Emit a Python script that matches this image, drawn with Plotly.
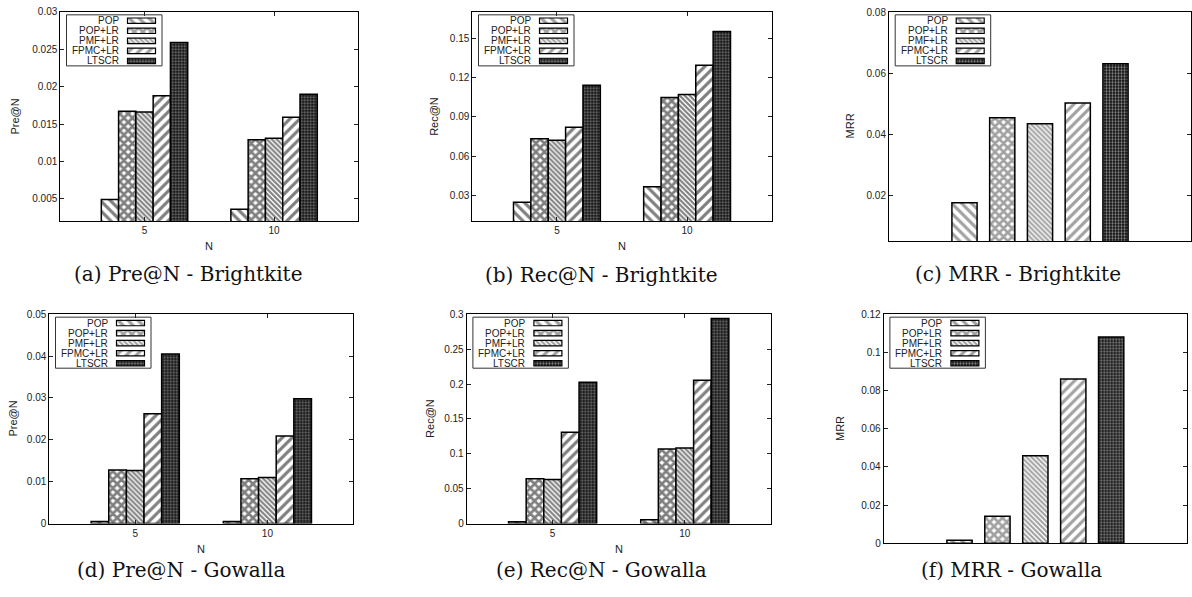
import plotly.graph_objects as go

W, H = 1192, 597

# ---------------- data ----------------
methods = ["POP", "POP+LR", "PMF+LR", "FPMC+LR", "LTSCR"]
n_labels = ["5", "10"]

bk_pre_n5 = [0.0049, 0.0167, 0.0166, 0.0188, 0.0259]
bk_pre_n10 = [0.0036, 0.0129, 0.0131, 0.0159, 0.0190]
bk_rec_n5 = [0.0245, 0.0732, 0.0722, 0.0822, 0.1143]
bk_rec_n10 = [0.0365, 0.1050, 0.1073, 0.1297, 0.1555]
bk_mrr = [0.0175, 0.0454, 0.0434, 0.0502, 0.0631]

gw_pre_n5 = [0.0005, 0.0128, 0.0127, 0.0262, 0.0405]
gw_pre_n10 = [0.0005, 0.0107, 0.0110, 0.0209, 0.0298]
gw_rec_n5 = [0.0028, 0.0642, 0.0633, 0.1308, 0.2025]
gw_rec_n10 = [0.0056, 0.1069, 0.1083, 0.2053, 0.2939]
gw_mrr = [0.0015, 0.0141, 0.0458, 0.0861, 0.1080]

ticks_a = ["0.005", "0.01", "0.015", "0.02", "0.025", "0.03"]
ticks_b = ["0.03", "0.06", "0.09", "0.12", "0.15"]
ticks_c = ["0.02", "0.04", "0.06", "0.08"]
ticks_d = ["0", "0.01", "0.02", "0.03", "0.04", "0.05"]
ticks_e = ["0", "0.05", "0.1", "0.15", "0.2", "0.25", "0.3"]
ticks_f = ["0", "0.02", "0.04", "0.06", "0.08", "0.1", "0.12"]

captions = ["(a) Pre@N - Brightkite", "(b) Rec@N - Brightkite", "(c) MRR - Brightkite",
            "(d) Pre@N - Gowalla", "(e) Rec@N - Gowalla", "(f) MRR - Gowalla"]
ytitles = ["Pre@N", "Rec@N", "MRR", "Pre@N", "Rec@N", "MRR"]

# ---------------- styles ----------------
pat_shape = ["\\", "x", "\\", "/", "."]
pat_size = [7, 6, 3.5, 7, 3]
pat_solid = [0.45, 0.7, 0.6, 0.45, 0.45]
pat_fg = ["black", "black", "black", "black", "#d8d8d8"]
pat_bg = ["white", "white", "white", "white", "#0a0a0a"]

SANS = "Liberation Sans"
SERIF = "DejaVu Serif"
TICKFONT = dict(family=SANS, size=10, color="#222")


def X(px):
    return px / W


def Y(py):
    return 1 - py / H


# panel geometry in pixels: left, right, top, bottom
panels = [
    (60.3, 358.3, 6, 219.3),
    (472.3, 771.7, 6, 219.3),
    (889, 1191, 6, 239.3),
    (49.3, 353.3, 314, 527.3),
    (466.7, 770.7, 314, 527.3),
    (883.7, 1187, 314, 547.3),
]
yranges = [(0.002, 0.03), (0.01, 0.1706), (0.005, 0.0801), (0, 0.05), (0, 0.3), (0, 0.12)]
ytick_lists = [ticks_a, ticks_b, ticks_c, ticks_d, ticks_e, ticks_f]
ytitle_x = [15, 433.3, 850, 12.7, 430, 839.3]
caption_pos = [(188, 273), (601, 274), (1018, 273), (181, 575), (601, 575), (1011, 575)]
xtitle_y = [245, 245, None, 553, 553, None]

grouped = {0: (bk_pre_n5, bk_pre_n10), 1: (bk_rec_n5, bk_rec_n10),
           3: (gw_pre_n5, gw_pre_n10), 4: (gw_rec_n5, gw_rec_n10)}
single = {2: bk_mrr, 5: gw_mrr}

fig = go.Figure()
annotations = []
shapes = []
layout = {}

for p in range(6):
    xa = "x" if p == 0 else f"x{p+1}"
    ya = "y" if p == 0 else f"y{p+1}"
    xkey = "xaxis" if p == 0 else f"xaxis{p+1}"
    ykey = "yaxis" if p == 0 else f"yaxis{p+1}"
    l, r, t, b = panels[p]
    if p in grouped:
        n5, n10 = grouped[p]
        for i, m in enumerate(methods):
            fig.add_trace(go.Bar(
                x=list(range(len(n_labels))), y=[n5[i], n10[i]], name=m,
                xaxis=xa, yaxis=ya, showlegend=False,
                marker=dict(color=pat_bg[i], line=dict(color="black", width=1.5),
                            pattern=dict(shape=pat_shape[i], size=pat_size[i],
                                         solidity=pat_solid[i], fgcolor=pat_fg[i],
                                         bgcolor=pat_bg[i], fillmode="overlay")),
            ))
        layout[xkey] = dict(domain=[X(l), X(r)], anchor=ya, range=[-0.65, 1.65],
                            tickvals=list(range(len(n_labels))), ticktext=n_labels,
                            ticks="inside", ticklen=4, tickcolor="#222", mirror="ticks",
                            showline=True, linecolor="black", linewidth=1,
                            showgrid=False, zeroline=False, tickfont=TICKFONT)
        annotations.append(dict(text="N", x=X((l + r) / 2), y=Y(xtitle_y[p]), xref="paper",
                                yref="paper", showarrow=False, font=dict(family=SANS, size=11, color="#222"),
                                xanchor="center", yanchor="middle"))
    else:
        vals = single[p]
        fig.add_trace(go.Bar(
            x=list(range(len(methods))), y=vals, xaxis=xa, yaxis=ya, showlegend=False,
            marker=dict(color=pat_bg, line=dict(color="black", width=1.5),
                        pattern=dict(shape=pat_shape, size=pat_size, solidity=pat_solid,
                                     fgcolor=pat_fg, bgcolor=pat_bg, fillmode="overlay")),
        ))
        layout[xkey] = dict(domain=[X(l), X(r)], anchor=ya, range=[-2.0, 6.0],
                            showticklabels=False, ticks="", mirror=True,
                            showline=True, linecolor="black", linewidth=1,
                            showgrid=False, zeroline=False)
    tl = ytick_lists[p]
    layout[ykey] = dict(domain=[Y(b), Y(t)], anchor=xa, range=list(yranges[p]),
                        tickvals=[float(v) for v in tl], ticktext=tl,
                        ticks="inside", ticklen=4, tickcolor="#222", mirror="ticks",
                        showline=True, linecolor="black", linewidth=1,
                        showgrid=False, zeroline=False, tickfont=TICKFONT)
    annotations.append(dict(text=ytitles[p], x=X(ytitle_x[p]), y=Y((t + b) / 2), xref="paper",
                            yref="paper", showarrow=False, textangle=-90,
                            font=dict(family=SANS, size=11, color="#222"),
                            xanchor="center", yanchor="middle"))
    cx, cy = caption_pos[p]
    annotations.append(dict(text=captions[p], x=X(cx), y=Y(cy), xref="paper", yref="paper",
                            showarrow=False, font=dict(family=SERIF, size=20, color="#111"),
                            xanchor="center", yanchor="middle"))

# ---------------- custom legends (text right-aligned, sample on right) ----------------
LW, LH = 95.5, 52
row_y = [6 + 10.25 * k for k in range(len(methods))]
for p in range(6):
    l, r, t, b = panels[p]
    bl = l + 6.2
    bt = t + 3
    k = 7 + p
    xa, ya = f"x{k}", f"y{k}"
    fig.add_trace(go.Bar(
        y=row_y, x=[28] * len(methods), base=[61] * len(methods), orientation="h",
        width=[5.5] * len(methods), xaxis=xa, yaxis=ya, showlegend=False, hoverinfo="skip",
        marker=dict(color=pat_bg, line=dict(color="black", width=1.2),
                    pattern=dict(shape=pat_shape, size=pat_size, solidity=pat_solid,
                                 fgcolor=pat_fg, bgcolor=pat_bg, fillmode="overlay")),
    ))
    layout[f"xaxis{k}"] = dict(domain=[X(bl), X(bl + LW)], anchor=ya, range=[0, LW],
                               visible=False, fixedrange=True)
    layout[f"yaxis{k}"] = dict(domain=[Y(bt + LH), Y(bt)], anchor=xa, range=[LH, 0],
                               visible=False, fixedrange=True)
    shapes.append(dict(type="rect", xref=f"x{k} domain", yref=f"y{k} domain",
                       x0=0, x1=1, y0=0, y1=1, line=dict(color="#333", width=1)))
    for i, m in enumerate(methods):
        annotations.append(dict(text=m, x=54.5, y=row_y[i], xref=xa, yref=ya, showarrow=False,
                                xanchor="right", yanchor="middle",
                                font=dict(family=SANS, size=10, color="#222")))

fig.update_layout(
    width=W, height=H, margin=dict(l=0, r=0, t=0, b=0),
    paper_bgcolor="white", plot_bgcolor="rgba(0,0,0,0)",
    barmode="group", bargap=0.333, bargroupgap=0,
    annotations=annotations, shapes=shapes, showlegend=False,
    **layout,
)

fig.write_html("out.html")
